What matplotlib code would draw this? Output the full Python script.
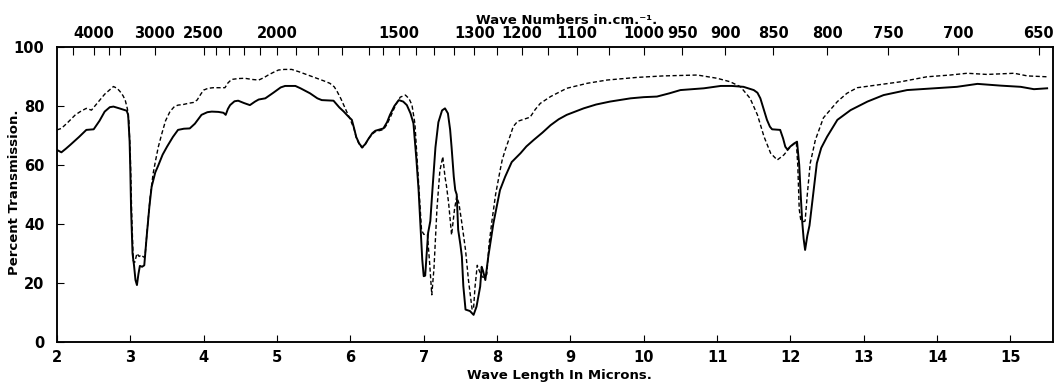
import numpy as np
import matplotlib
matplotlib.use("Agg")
import matplotlib.pyplot as plt

# ---- data (wavelength in microns, percent transmission) ----
solid_wl = [2.00, 2.06, 2.12, 2.18, 2.30, 2.40, 2.50, 2.58, 2.65, 2.72, 2.77, 2.85, 2.95, 2.97,
            2.99, 3.00, 3.01, 3.03, 3.05, 3.07, 3.09, 3.11, 3.13, 3.16, 3.19, 3.22, 3.26, 3.29,
            3.34, 3.38, 3.44, 3.50, 3.58, 3.65, 3.73, 3.81, 3.88, 3.97, 4.05, 4.11, 4.20, 4.27,
            4.30, 4.33, 4.36, 4.42, 4.47, 4.55, 4.63, 4.70, 4.75, 4.84, 4.95, 5.05, 5.11, 5.25,
            5.32, 5.45, 5.55, 5.61, 5.70, 5.77, 5.85, 5.91, 5.97, 6.02, 6.05, 6.08, 6.12, 6.16,
            6.20, 6.25, 6.30, 6.34, 6.45, 6.50, 6.54, 6.60, 6.66, 6.72, 6.77, 6.82, 6.86, 6.90,
            6.93, 6.96, 6.98, 7.00, 7.02, 7.04, 7.06, 7.09, 7.12, 7.16, 7.20, 7.25, 7.29, 7.33,
            7.36, 7.38, 7.41, 7.43, 7.45, 7.47, 7.50, 7.52, 7.54, 7.57, 7.63, 7.68, 7.72, 7.77,
            7.79, 7.81, 7.84, 7.88, 7.95, 8.04, 8.11, 8.20, 8.32, 8.40, 8.50, 8.62, 8.73, 8.84,
            8.95, 9.18, 9.35, 9.54, 9.82, 10.00, 10.18, 10.35, 10.50, 10.82, 11.05, 11.20, 11.36,
            11.50, 11.55, 11.59, 11.64, 11.68, 11.72, 11.75, 11.86, 11.90, 11.93, 11.96, 12.00,
            12.05, 12.09, 12.12, 12.14, 12.16, 12.18, 12.20, 12.23, 12.26, 12.30, 12.36, 12.42,
            12.50, 12.64, 12.82, 13.05, 13.27, 13.59, 13.96, 14.27, 14.55, 14.87, 15.14, 15.32,
            15.50]
solid_t = [65.1, 64.3, 65.5, 66.8, 69.5, 71.9, 72.1, 75.0, 78.1, 79.6, 79.8, 79.2, 78.4, 77.0,
           68.0, 58.0, 45.0, 30.0, 26.0, 21.0, 19.3, 23.0, 25.8, 25.5, 26.0, 35.0, 46.0, 52.6,
           57.5, 59.8, 63.5, 66.2, 69.5, 71.9, 72.3, 72.4, 74.0, 77.0, 77.9, 78.1, 78.0, 77.7,
           77.0, 79.0, 80.3, 81.6, 81.8, 81.0, 80.3, 81.5, 82.2, 82.6, 84.5, 86.3, 86.8, 86.8,
           86.0, 84.3, 82.6, 82.0, 81.9, 81.8, 79.5, 78.1, 76.5, 75.3, 72.5, 69.5, 67.3, 66.0,
           67.0, 69.0, 70.8, 71.6, 72.4, 74.5, 77.0, 80.0, 82.0, 81.5, 80.3, 77.5, 74.1, 62.0,
           51.5, 37.0, 28.0, 22.3, 22.5, 30.0, 37.0, 41.0, 52.0, 66.0, 74.5, 78.5, 79.2, 77.5,
           72.0, 66.0, 56.0, 51.5, 50.0, 38.0, 33.0, 29.0, 19.0, 11.0, 10.5, 9.2, 12.0, 18.8,
           25.5, 24.0, 21.0, 28.9, 40.2, 51.5, 56.0, 61.0, 64.0, 66.3, 68.5, 71.0, 73.5, 75.5,
           77.0, 79.2, 80.5, 81.5, 82.6, 83.0, 83.2, 84.3, 85.4, 86.0, 86.8, 86.8, 86.5,
           85.4, 84.5, 82.6, 78.5, 75.3, 73.0, 72.1, 71.9, 69.0, 66.2, 65.2, 66.3,
           67.3, 67.9, 60.0, 50.0, 41.0, 35.0, 31.2, 36.0, 39.5, 48.0, 60.6, 65.8,
           69.6, 75.3, 78.6, 81.5, 83.7, 85.4, 86.0, 86.5, 87.5, 86.9, 86.5, 85.7,
           86.0]

dashed_wl = [2.00, 2.06, 2.15, 2.25, 2.33, 2.40, 2.47, 2.55, 2.65, 2.77, 2.82, 2.86, 2.90, 2.93,
             2.96, 2.98, 3.00, 3.02, 3.04, 3.06, 3.09, 3.12, 3.15, 3.18, 3.20, 3.23, 3.27, 3.31,
             3.34, 3.38, 3.43, 3.48, 3.54, 3.60, 3.65, 3.72, 3.79, 3.86, 3.91, 3.96, 4.00, 4.06,
             4.13, 4.22, 4.29, 4.33, 4.38, 4.47, 4.56, 4.66, 4.75, 4.82, 4.88, 4.95, 5.02, 5.10,
             5.20, 5.30, 5.42, 5.54, 5.64, 5.72, 5.78, 5.82, 5.87, 5.91, 5.96, 6.00, 6.05, 6.08,
             6.12, 6.16, 6.20, 6.25, 6.30, 6.34, 6.45, 6.50, 6.55, 6.62, 6.68, 6.75, 6.80, 6.84,
             6.88, 6.91, 6.94, 6.97, 7.00, 7.05, 7.08, 7.11, 7.14, 7.18, 7.22, 7.26, 7.29, 7.31,
             7.34, 7.38, 7.42, 7.45, 7.48, 7.52, 7.57, 7.61, 7.66, 7.68, 7.70, 7.73, 7.76, 7.80,
             7.84, 7.86, 7.89, 7.93, 7.98, 8.04, 8.07, 8.11, 8.18, 8.22, 8.28, 8.34, 8.45, 8.52,
             8.59, 8.73, 8.95, 9.23, 9.50, 9.91, 10.27, 10.73, 11.00, 11.18, 11.32, 11.45, 11.55,
             11.64, 11.73, 11.82, 11.91, 12.00, 12.08, 12.10, 12.12, 12.14, 12.18, 12.20, 12.23,
             12.27, 12.34, 12.45, 12.64, 12.77, 12.91, 13.18, 13.50, 13.86, 14.18, 14.41, 14.68,
             15.05, 15.23, 15.50]
dashed_t = [71.9, 72.4, 74.5, 77.0, 78.3, 79.2, 78.6, 81.0, 84.0, 86.6, 86.0, 84.9, 83.5, 82.0,
            79.0, 75.0, 63.0, 42.0, 27.5, 27.0, 30.0, 29.0, 29.5, 28.8, 29.0, 38.0, 49.0, 57.0,
            61.0, 66.0, 70.7, 75.0, 78.1, 79.8, 80.3, 80.5, 80.9, 81.2, 82.0, 84.0, 85.4, 86.0,
            86.2, 86.2, 86.2, 87.8, 89.0, 89.3, 89.4, 89.0, 88.8, 89.6, 90.5, 91.4, 92.2, 92.4,
            92.4, 91.6, 90.5, 89.4, 88.5, 87.7, 86.5, 84.9, 82.5, 80.3, 77.5, 75.3, 72.3, 69.3,
            67.0, 65.8, 66.8, 69.0, 70.5, 71.3, 72.0, 73.8, 76.5, 80.5, 83.0, 83.7, 82.5, 80.3,
            74.0, 62.0, 50.0, 38.0, 36.5, 36.5, 27.0, 16.0, 25.0, 45.0, 58.0, 62.8, 56.0, 53.0,
            47.0, 36.3, 45.0, 49.3, 47.0, 40.3, 31.2, 21.0, 11.0, 11.5, 18.8, 26.0, 24.0, 22.0,
            22.0, 23.0, 33.0, 41.0, 50.0, 58.0, 61.7, 65.0, 70.0, 73.0, 74.8, 75.3, 76.2, 78.8,
            80.9, 83.2, 86.0, 87.7, 88.8, 89.7, 90.2, 90.5, 89.4, 88.2, 86.5, 82.6, 77.0,
            69.6, 64.0, 61.7, 63.4, 66.2, 67.8, 60.0, 45.0, 41.5, 40.8, 41.0, 50.0,
            60.6, 68.5, 76.0, 81.5, 84.3, 86.2, 87.1, 88.2, 89.9, 90.5, 91.1, 90.7,
            91.1, 90.2, 89.9]

x_ticks = [2, 3, 4, 5, 6, 7, 8, 9, 10, 11, 12, 13, 14, 15]
y_ticks = [0, 20, 40, 60, 80, 100]
wn_labels = [4000, 3000, 2500, 2000, 1500, 1300, 1200, 1100, 1000, 950, 900, 850, 800, 750, 700, 650]
wn_minor = [4500, 3700, 3500, 2400, 2300, 2200, 2100, 1900, 1800, 1700, 1600, 1550, 1450, 1400,
            1350, 1250, 1150, 1050]

# ---- figure ----
plt.rcParams['font.family'] = ['DejaVu Sans']
fig = plt.figure(figsize=(10.54, 3.84), dpi=100)
ax = fig.add_axes([57 / 1054, 42 / 384, 996 / 1054, 295 / 384])

ax.plot(solid_wl, solid_t, color='black', lw=1.4, solid_joinstyle='round')
ax.plot(dashed_wl, dashed_t, color='black', lw=1.0, linestyle=(0, (3.0, 1.8)))

ax.set_xlim(2, 15.58)
ax.set_ylim(0, 100)
ax.set_xticks(x_ticks)
ax.set_xticklabels([str(v) for v in x_ticks])
ax.set_yticks(y_ticks)
ax.set_yticklabels([str(v) for v in y_ticks])
ax.tick_params(axis='x', direction='in', length=5, width=0.8, pad=6, labelsize=10.5)
ax.tick_params(axis='y', direction='in', length=5, width=0.8, pad=9, labelsize=10.5)
for lab in ax.get_xticklabels() + ax.get_yticklabels():
    lab.set_fontweight('bold')
for s in ax.spines.values():
    s.set_linewidth(1.1)

# top wavenumber axis
top = ax.twiny()
top.set_xlim(ax.get_xlim())
top.set_xticks([10000.0 / w for w in wn_labels])
top.set_xticklabels([str(w) for w in wn_labels], fontweight='bold', fontsize=10.5)
top.set_xticks([10000.0 / w for w in wn_minor], minor=True)
top.tick_params(axis='x', which='major', direction='in', length=6, width=0.8, pad=4)
top.tick_params(axis='x', which='minor', direction='in', length=6, width=0.8)
for s in top.spines.values():
    s.set_linewidth(1.1)

fig.text(0.538, 1 - 20 / 384, "Wave Numbers in.cm.⁻¹.", ha='center', va='center',
         fontsize=9.5, fontweight='bold')
fig.text(0.531, 1 - 375 / 384, "Wave Length In Microns.", ha='center', va='center',
         fontsize=9.5, fontweight='bold')
fig.text(0.014, 0.5, "Percent Transmission.", ha='center', va='center', rotation=90,
         fontsize=9.5, fontweight='bold')

fig.savefig("out.png", dpi=100)
